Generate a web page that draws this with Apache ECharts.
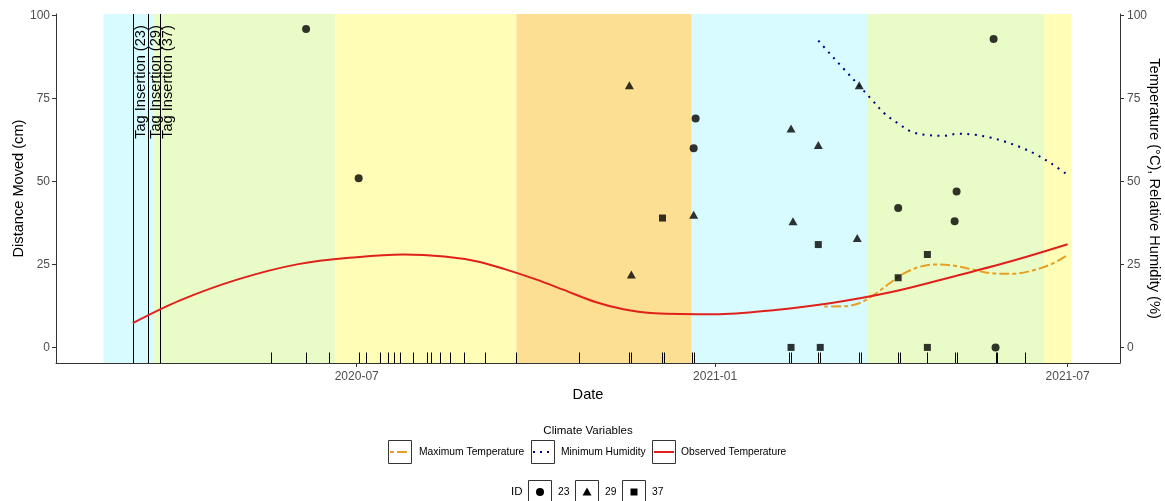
<!DOCTYPE html>
<html>
<head>
<meta charset="utf-8">
<script src="https://cdn.jsdelivr.net/npm/echarts@6/dist/echarts.min.js"></script>
<style>
  html, body { margin: 0; padding: 0; background: #ffffff; }
  #chart { width: 1165px; height: 501px; }
</style>
</head>
<body>
<div id="chart"></div>
<script>
const FONT = '"Liberation Sans", Arial, sans-serif';

// Seasonal background bands
const seasonStart = ['2020-02-22', '2020-03-19', '2020-06-20', '2020-09-21', '2020-12-20', '2021-03-20', '2021-06-19'];
const seasonEnd   = ['2020-03-19', '2020-06-20', '2020-09-21', '2020-12-20', '2021-03-20', '2021-06-19', '2021-07-03'];
const seasonName  = ['Winter', 'Spring', 'Summer', 'Autumn', 'Winter', 'Spring', 'Summer'];
const seasonColor = { Winter: '#D7FBFF', Spring: '#E9FCC8', Summer: '#FFFDB6', Autumn: '#FCDF93' };

// Tag insertion events
const tagDates  = ['2020-03-08', '2020-03-16', '2020-03-22'];
const tagLabels = ['Tag Insertion (23)', 'Tag Insertion (29)', 'Tag Insertion (37)'];
const tagLabelY = 80;

// Climate variables (smoothed)
const obsTempDates = ['2020-03-08', '2020-04-01', '2020-05-01', '2020-06-01', '2020-07-01', '2020-07-25', '2020-08-15',
  '2020-09-01', '2020-09-15', '2020-10-01', '2020-10-15', '2020-11-01', '2020-11-15', '2020-12-01', '2021-01-01',
  '2021-02-01', '2021-03-01', '2021-04-01', '2021-05-01', '2021-06-01', '2021-07-01'];
const obsTempValues = [7.3, 14.1, 20.5, 25.1, 27.2, 28.0, 27.4, 25.9, 23.6, 20.5, 17.4, 13.6, 11.5, 10.3, 10.0,
  11.3, 13.3, 16.6, 21.0, 25.8, 31.1];

const maxTempDates = ['2021-02-26', '2021-03-08', '2021-03-16', '2021-03-24', '2021-04-01', '2021-04-08', '2021-04-16',
  '2021-04-24', '2021-05-04', '2021-05-14', '2021-05-24', '2021-06-03', '2021-06-13', '2021-06-23', '2021-07-01'];
const maxTempValues = [12.3, 12.4, 13.3, 16.0, 19.5, 22.3, 24.3, 25.0, 24.6, 23.4, 22.3, 22.2, 23.2, 25.2, 27.8];

const minHumDates = ['2021-02-23', '2021-03-01', '2021-03-08', '2021-03-15', '2021-03-22', '2021-03-29', '2021-04-05',
  '2021-04-12', '2021-04-20', '2021-04-28', '2021-05-06', '2021-05-14', '2021-05-22', '2021-05-30', '2021-06-07',
  '2021-06-15', '2021-06-23', '2021-07-01'];
const minHumValues = [92.5, 88.5, 84.0, 79.5, 75.0, 70.5, 67.5, 65.0, 64.0, 63.8, 64.4, 64.1, 63.3, 62.0, 60.3,
  58.1, 55.3, 52.0];

// Distance moved per tagged individual
const id23Dates = ['2020-06-05', '2020-07-02', '2020-12-22', '2020-12-21', '2021-04-05', '2021-05-05', '2021-05-04', '2021-05-24', '2021-05-25'];
const id23Dist  = [96, 51, 69, 60, 42, 47, 38, 93, 0];
const id29Dates = ['2020-11-18', '2020-11-19', '2020-12-21', '2021-02-09', '2021-02-10', '2021-02-23', '2021-03-16', '2021-03-15'];
const id29Dist  = [79, 22, 40, 66, 38, 61, 79, 33];
const id37Dates = ['2020-12-05', '2021-02-09', '2021-02-24', '2021-02-23', '2021-04-05', '2021-04-20', '2021-04-20'];
const id37Dist  = [39, 0, 0, 31, 21, 28, 0];

// Survey dates (rug along the date axis)
const surveyDates = ['2020-05-18', '2020-06-05', '2020-06-17', '2020-07-02', '2020-07-06', '2020-07-13', '2020-07-17',
  '2020-07-20', '2020-07-23', '2020-07-30', '2020-08-06', '2020-08-08', '2020-08-13', '2020-08-18', '2020-08-25',
  '2020-09-05', '2020-09-21', '2020-10-23', '2020-11-18', '2020-11-19', '2020-12-05', '2020-12-06', '2020-12-20',
  '2020-12-21', '2021-02-08', '2021-02-09', '2021-02-23', '2021-02-24', '2021-03-16', '2021-03-17', '2021-04-05',
  '2021-04-06', '2021-04-20', '2021-05-04', '2021-05-05', '2021-05-25', '2021-05-26', '2021-06-09'];

// Axis ticks
const xTickDates  = ['2020-07-01', '2021-01-01', '2021-07-01'];
const xTickLabels = ['2020-07', '2021-01', '2021-07'];
const yTicks = [0, 25, 50, 75, 100];

const climateNames = ['Maximum Temperature', 'Minimum Humidity', 'Observed Temperature'];
const idNames = ['23', '29', '37'];

// dates are placed on a numeric (millisecond) axis
const ts = d => echarts.time.parse(d).getTime();
const DAY = 86400000;
const xTickTs = xTickDates.map(ts);
const pairs = (dates, vals) => dates.map((d, i) => [ts(d), vals[i]]);

const axisLineStyle = { color: '#333333', width: 1 };
const tickLabel = { color: '#4D4D4D', fontSize: 12, fontFamily: FONT };

const chart = echarts.init(document.getElementById('chart'), null, { renderer: 'canvas' });

// legend drawn as boxed keys
const legendGraphics = [];
function keyBox(x, y) {
  legendGraphics.push({ type: 'rect', shape: { x: x + 0.5, y: y + 0.5, width: 23, height: 23 },
    style: { fill: '#ffffff', stroke: '#333333', lineWidth: 1 }, silent: true });
}
function legendText(x, y, text, size, align) {
  legendGraphics.push({ type: 'text', x: x, y: y, silent: true,
    style: { text: text, fill: '#000000', font: size + 'px ' + FONT, align: align || 'left', verticalAlign: 'middle' } });
}
legendText(588, 431, 'Climate Variables', 11.5, 'center');
const row1Y = 440, row1Box = [388, 531, 652], row1Text = [419, 561, 681];
const lineKeys = [
  { stroke: '#E5A023', dash: [4, 3, 10, 3] },
  { stroke: '#000080', dash: [2, 5] },
  { stroke: '#E0201B', dash: null }
];
climateNames.forEach((name, i) => {
  keyBox(row1Box[i], row1Y);
  legendGraphics.push({ type: 'line', silent: true,
    shape: { x1: row1Box[i] + 2, y1: row1Y + 12, x2: row1Box[i] + 22, y2: row1Y + 12 },
    style: { stroke: lineKeys[i].stroke, lineWidth: 2, lineDash: lineKeys[i].dash } });
  legendText(row1Text[i], row1Y + 12, name, 10.3);
});
const row2Y = 480, row2Box = [528, 575, 622], row2Text = [558, 605, 652];
legendText(511, row2Y + 12, 'ID', 11.5);
const keySymbols = ['circle', 'triangle', 'rect'];
idNames.forEach((name, i) => {
  keyBox(row2Box[i], row2Y);
  const cx = row2Box[i] + 12, cy = row2Y + 12;
  let shapeEl;
  if (keySymbols[i] === 'circle') shapeEl = { type: 'circle', shape: { cx: cx, cy: cy, r: 4 } };
  else if (keySymbols[i] === 'triangle') shapeEl = { type: 'polygon', shape: { points: [[cx, cy - 4.5], [cx + 4.5, cy + 3.5], [cx - 4.5, cy + 3.5]] } };
  else shapeEl = { type: 'rect', shape: { x: cx - 3.5, y: cy - 3.5, width: 7, height: 7 } };
  shapeEl.style = { fill: '#000000' };
  shapeEl.silent = true;
  legendGraphics.push(shapeEl);
  legendText(row2Text[i], cy, name, 10.3);
});

const option = {
  animation: false,
  backgroundColor: '#ffffff',
  grid: { left: 56, top: 14, width: 1064, height: 349, containLabel: false, outerBoundsMode: 'none' },
  xAxis: {
    type: 'value',
    min: ts('2020-01-28') + 0.6 * DAY,
    max: ts('2021-07-27') + 0.9 * DAY,
    name: 'Date',
    nameLocation: 'middle',
    nameGap: 24,
    nameMoveOverlap: false,
    nameTextStyle: { color: '#000000', fontSize: 14.6, fontFamily: FONT },
    axisLine: { show: true, onZero: false, lineStyle: axisLineStyle },
    axisTick: { show: true, length: 4, lineStyle: axisLineStyle, customValues: xTickTs },
    axisLabel: Object.assign({}, tickLabel, {
      margin: 8,
      customValues: xTickTs,
      formatter: v => { const k = xTickTs.indexOf(v); return k >= 0 ? xTickLabels[k] : ''; }
    }),
    splitLine: { show: false }
  },
  yAxis: [
    {
      type: 'value', min: -4.7, max: 100.5, position: 'left',
      name: 'Distance Moved (cm)', nameLocation: 'middle', nameGap: 30, nameRotate: 90,
      nameMoveOverlap: false,
      nameTextStyle: { color: '#000000', fontSize: 14.6, fontFamily: FONT },
      axisLine: { show: true, onZero: false, lineStyle: axisLineStyle },
      axisTick: { show: true, length: 4, lineStyle: axisLineStyle, customValues: yTicks },
      axisLabel: Object.assign({}, tickLabel, { margin: 6, customValues: yTicks }),
      splitLine: { show: false }
    },
    {
      type: 'value', min: -4.7, max: 100.5, position: 'right',
      name: 'Temperature (°C), Relative Humidity (%)', nameLocation: 'middle', nameGap: 27, nameRotate: -90,
      nameMoveOverlap: false,
      nameTextStyle: { color: '#000000', fontSize: 14.6, fontFamily: FONT },
      axisLine: { show: true, onZero: false, lineStyle: axisLineStyle },
      axisTick: { show: true, length: 4, lineStyle: axisLineStyle, customValues: yTicks },
      axisLabel: Object.assign({}, tickLabel, { margin: 7, customValues: yTicks }),
      splitLine: { show: false }
    }
  ],
  graphic: legendGraphics,
  series: [
    {
      name: 'Season', type: 'custom', z: 0, silent: true,
      data: seasonStart.map((s, i) => [ts(s), ts(seasonEnd[i]), i]),
      encode: { x: [0, 1] },
      renderItem: (params, api) => {
        const cs = params.coordSys;
        const x0 = api.coord([api.value(0), 0])[0];
        const x1 = api.coord([api.value(1), 0])[0];
        return { type: 'rect', shape: { x: x0, y: cs.y, width: x1 - x0, height: cs.height },
          style: { fill: seasonColor[seasonName[api.value(2)]] } };
      }
    },
    {
      name: 'Tag Insertion', type: 'custom', z: 1, silent: true,
      data: tagDates.map((d, i) => [ts(d), tagLabelY, i]),
      encode: { x: 0, y: 1 },
      renderItem: (params, api) => {
        const cs = params.coordSys;
        const p = api.coord([api.value(0), api.value(1)]);
        const x = Math.round(p[0]) + 0.5;
        return { type: 'group', children: [
          { type: 'line', shape: { x1: x, y1: cs.y, x2: x, y2: cs.y + cs.height },
            style: { stroke: '#000000', lineWidth: 1 } },
          { type: 'text', x: x + 7, y: p[1], rotation: Math.PI / 2,
            style: { text: tagLabels[api.value(2)], fill: '#000000', font: '14.6px ' + FONT,
              align: 'center', verticalAlign: 'middle' } }
        ] };
      }
    },
    {
      name: 'Maximum Temperature', type: 'line', yAxisIndex: 1, z: 3, smooth: 0.35,
      showSymbol: false, data: pairs(maxTempDates, maxTempValues),
      lineStyle: { color: '#E5A023', width: 2, type: [4, 3, 10, 3] }
    },
    {
      name: 'Minimum Humidity', type: 'line', yAxisIndex: 1, z: 3, smooth: 0.35,
      showSymbol: false, data: pairs(minHumDates, minHumValues),
      lineStyle: { color: '#000080', width: 2, type: [2, 5.5] }
    },
    {
      name: 'Observed Temperature', type: 'line', yAxisIndex: 1, z: 3, smooth: 0.35,
      showSymbol: false, data: pairs(obsTempDates, obsTempValues),
      lineStyle: { color: '#E0201B', width: 2 }
    },
    {
      name: '23', type: 'scatter', z: 4, symbol: 'circle', symbolSize: 8,
      data: pairs(id23Dates, id23Dist), itemStyle: { color: '#000000' }
    },
    {
      name: '29', type: 'scatter', z: 4, symbol: 'triangle', symbolSize: [9, 8],
      data: pairs(id29Dates, id29Dist), itemStyle: { color: '#000000' }
    },
    {
      name: '37', type: 'scatter', z: 4, symbol: 'rect', symbolSize: 7,
      data: pairs(id37Dates, id37Dist), itemStyle: { color: '#000000' }
    },
    {
      name: 'Survey', type: 'custom', z: 5, silent: true,
      data: surveyDates.map(d => [ts(d), 0]),
      encode: { x: 0, y: 1 },
      renderItem: (params, api) => {
        const cs = params.coordSys;
        const x = Math.round(api.coord([api.value(0), 0])[0]) + 0.5;
        const yb = cs.y + cs.height;
        return { type: 'line', shape: { x1: x, y1: yb, x2: x, y2: yb - 10.5 },
          style: { stroke: '#000000', lineWidth: 1 } };
      }
    }
  ]
};
chart.setOption(option);
</script>
</body>
</html>
